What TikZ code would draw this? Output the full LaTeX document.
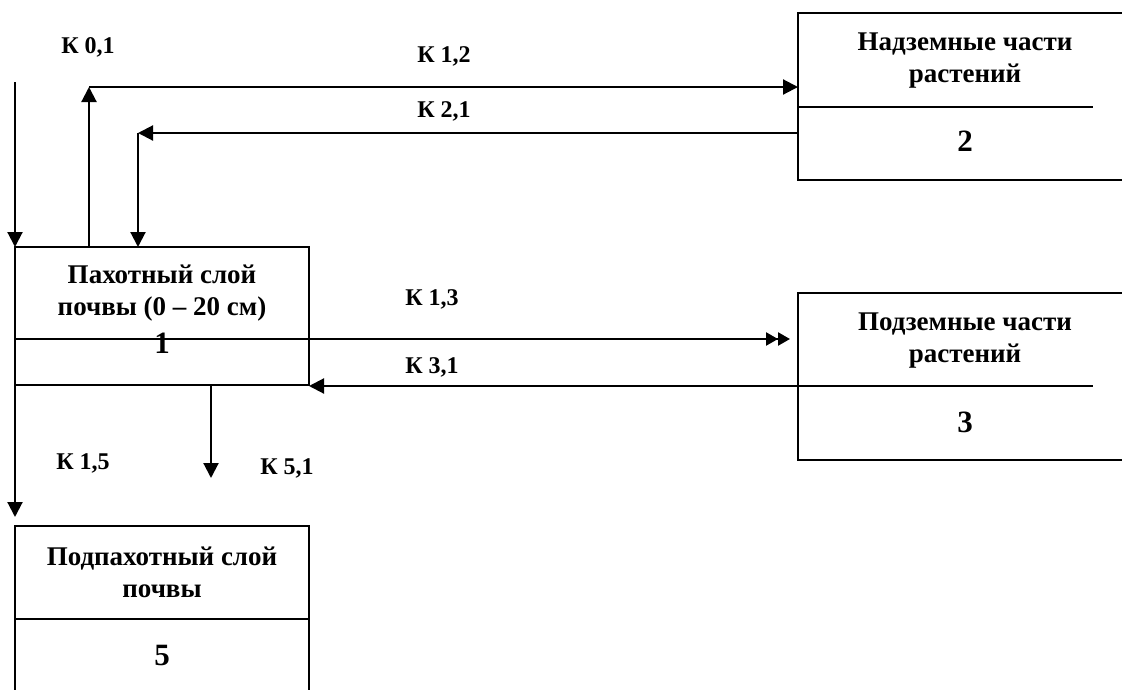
\documentclass[tikz,border=0pt]{standalone}
\usepackage{fontspec}
\setmainfont{Liberation Serif}
\usetikzlibrary{arrows.meta}
\begin{document}
\begin{tikzpicture}[x=1pt,y=-1pt,
  box/.style={draw, line width=1.5pt, anchor=north west, inner sep=0pt, outer sep=0pt},
  divider/.style={line width=1.5pt},
  arr/.style={line width=2.1pt, -{Triangle[length=15pt,width=15pt]}},
  darr/.style={line width=2.4pt, -{Triangle[length=12pt,width=13pt]Triangle[length=12pt,width=13pt]}},
  lbl/.style={font=\fontsize{24}{28}\selectfont\bfseries, anchor=base, inner sep=0pt},
  txt/.style={font=\fontsize{27}{32}\selectfont\bfseries, anchor=base, inner sep=0pt},
  num/.style={font=\fontsize{31}{34}\selectfont\bfseries, anchor=base, inner sep=0pt}]
\useasboundingbox (0,0) rectangle (1122,689);
% boxes
\node[box, minimum width=294pt, minimum height=138pt] (b1) at (15,247) {};
\node[box, minimum width=350pt, minimum height=167pt] (b2) at (798,13) {};
\node[box, minimum width=350pt, minimum height=167pt] (b3) at (798,293) {};
\node[box, minimum width=294pt, minimum height=200pt] (b5) at (15,526) {};
% dividers
\coordinate (d1w) at (15,339);
\coordinate (d1e) at (309,339);
\coordinate (d2w) at (798,107);
\coordinate (d2e) at (1093,107);
\coordinate (d3w) at (798,386);
\coordinate (d3e) at (1093,386);
\coordinate (d5w) at (15,619);
\coordinate (d5e) at (309,619);
\draw[divider] (d1w) -- (d1e);
\draw[divider] (d2w) -- (d2e);
\draw[divider] (d3w) -- (d3e);
\draw[divider] (d5w) -- (d5e);
% texts
\node[txt] (t1a) at (162,283) {Пахотный слой};
\node[txt] (t1b) at (162,315) {почвы (0 – 20 см)};
\node[num] (n1) at (162,353) {1};
\node[txt] (t2a) at (965,50) {Надземные части};
\node[txt] (t2b) at (965,82) {растений};
\node[num] (n2) at (965,151) {2};
\node[txt] (t3a) at (965,330) {Подземные части};
\node[txt] (t3b) at (965,362) {растений};
\node[num] (n3) at (965,432) {3};
\node[txt] (t5a) at (162,565) {Подпахотный слой};
\node[txt] (t5b) at (162,597) {почвы};
\node[num] (n5) at (162,665) {5};
% connectors
\coordinate (in0) at (15,82);
\coordinate (c12a) at (89,247);
\coordinate (c12b) at (89,87);
\coordinate (c12c) at (798,87);
\coordinate (c21a) at (798,133);
\coordinate (c21b) at (138,133);
\coordinate (c21c) at (138,247);
\coordinate (c13a) at (300,339);
\coordinate (c13b) at (790,339);
\coordinate (c31a) at (798,386);
\coordinate (c31b) at (309,386);
\coordinate (c15a) at (15,385);
\coordinate (c15b) at (15,517);
\coordinate (c51a) at (211,385);
\coordinate (c51b) at (211,478);
\draw[arr] (in0) -- (b1.north west);
\draw[arr] (c12a) -- (c12b);
\draw[arr] (c12b) -- (c12c);
\draw[arr] (c21a) -- (c21b);
\draw[arr] (c21b) -- (c21c);
\draw[darr] (c13a) -- (c13b);
\draw[arr] (c31a) -- (c31b);
\draw[arr] (c15a) -- (c15b);
\draw[arr] (c51a) -- (c51b);
% labels
\node[lbl] (k01) at (88,53) {К 0,1};
\node[lbl] (k12) at (444,62) {К 1,2};
\node[lbl] (k21) at (444,117) {К 2,1};
\node[lbl] (k13) at (432,305) {К 1,3};
\node[lbl] (k31) at (432,373) {К 3,1};
\node[lbl] (k15) at (83,469) {К 1,5};
\node[lbl] (k51) at (287,474) {К 5,1};
\end{tikzpicture}
\end{document}
